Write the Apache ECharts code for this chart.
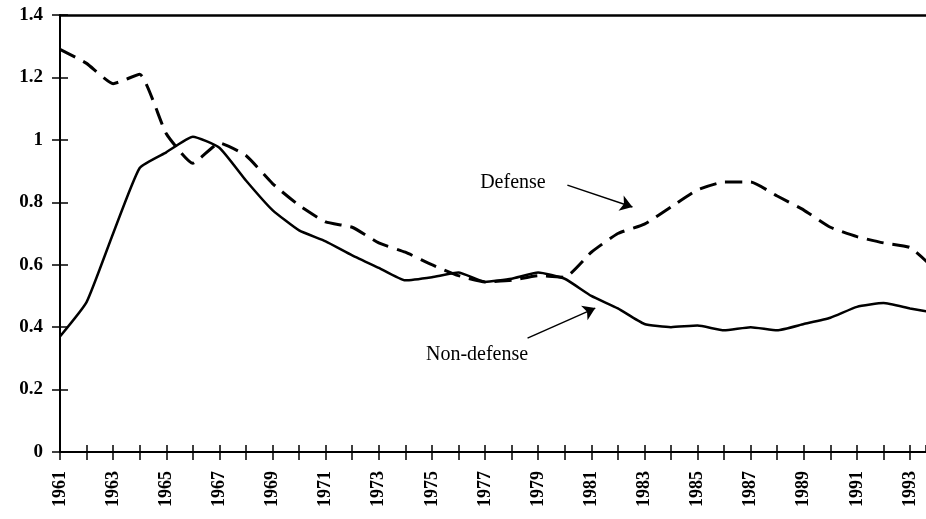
<!DOCTYPE html>
<html>
<head>
<meta charset="utf-8">
<script src="https://cdn.jsdelivr.net/npm/echarts@6/dist/echarts.min.js"></script>
<style>
  html, body { margin: 0; padding: 0; background: #fff; }
  #main { width: 926px; height: 519px; }
</style>
</head>
<body>
<div id="main"></div>
<script>
// years on the x axis
var years = [1961, 1962, 1963, 1964, 1965, 1966, 1967, 1968, 1969, 1970,
             1971, 1972, 1973, 1974, 1975, 1976, 1977, 1978, 1979, 1980,
             1981, 1982, 1983, 1984, 1985, 1986, 1987, 1988, 1989, 1990,
             1991, 1992, 1993, 1994];
// dashed line
var defense = [1.29, 1.245, 1.18, 1.21, 1.02, 0.925, 0.99, 0.95, 0.86, 0.79,
               0.737, 0.72, 0.67, 0.64, 0.60, 0.565, 0.545, 0.55, 0.565, 0.56,
               0.64, 0.70, 0.73, 0.785, 0.84, 0.865, 0.865, 0.82, 0.775, 0.72,
               0.69, 0.67, 0.655, 0.58];
// solid line
var nonDefense = [0.37, 0.48, 0.70, 0.91, 0.96, 1.01, 0.975, 0.87, 0.775, 0.71,
                  0.675, 0.63, 0.59, 0.55, 0.56, 0.575, 0.545, 0.555, 0.575, 0.555,
                  0.50, 0.46, 0.41, 0.40, 0.405, 0.39, 0.40, 0.39, 0.41, 0.43,
                  0.465, 0.477, 0.46, 0.445];
var yTicks = [0, 0.2, 0.4, 0.6, 0.8, 1, 1.2, 1.4];

var font = 'Liberation Serif';
var xMin = 1961, xMax = 1993.6;   // picture is cut off just before 1994
var pairs = function (vals) {
  return years.map(function (y, i) { return [y, vals[i]]; });
};

var chart = echarts.init(document.getElementById('main'));
chart.setOption({
  animation: false,
  backgroundColor: '#fff',
  grid: { left: 60, right: 0, top: 15, bottom: 67 },
  xAxis: [{
    type: 'value', min: xMin, max: xMax, interval: 1,
    splitLine: { show: false },
    axisLine: { lineStyle: { color: '#000', width: 2 } },
    axisTick: { length: 8, lineStyle: { color: '#000', width: 1.5 } },
    axisLabel: {
      rotate: 90, margin: 19, color: '#000', showMaxLabel: false,
      fontFamily: font, fontSize: 18, fontWeight: 'bold',
      formatter: function (v) { return (Number.isInteger(v) && v % 2 === 1) ? String(v) : ''; }
    }
  }, {
    type: 'value', min: xMin, max: xMax, interval: 1,
    position: 'bottom',
    splitLine: { show: false }, axisLine: { show: false }, axisLabel: { show: false },
    axisTick: { inside: true, length: 7, lineStyle: { color: '#000', width: 1.5 } }
  }, {
    type: 'value', min: xMin, max: xMax, interval: 1,
    position: 'top',
    splitLine: { show: false }, axisTick: { show: false }, axisLabel: { show: false },
    axisLine: { show: true, lineStyle: { color: '#000', width: 2.5 } }
  }],
  yAxis: [{
    type: 'value', min: yTicks[0], max: yTicks[yTicks.length - 1], interval: 0.2,
    splitLine: { show: false },
    axisLine: { show: true, lineStyle: { color: '#000', width: 2 } },
    axisTick: { show: true, length: 8, lineStyle: { color: '#000', width: 1.5 } },
    axisLabel: { margin: 17, color: '#000', fontFamily: font, fontSize: 19, fontWeight: 'bold' }
  }, {
    type: 'value', min: yTicks[0], max: yTicks[yTicks.length - 1], interval: 0.2,
    position: 'left',
    splitLine: { show: false }, axisLine: { show: false }, axisLabel: { show: false },
    axisTick: { show: true, inside: true, length: 8, lineStyle: { color: '#000', width: 1.5 } }
  }],
  series: [{
    name: 'Defense',
    type: 'line',
    data: pairs(defense),
    showSymbol: false,
    smooth: 0.15,
    lineStyle: { color: '#000', width: 3, type: [17, 9] },
    markLine: {
      silent: true, symbol: ['none', 'arrow'], symbolSize: 12,
      label: { show: false },
      lineStyle: { color: '#000', width: 1.5, type: 'solid' },
      data: [[{ coord: [1980.1, 0.855] }, { coord: [1982.55, 0.785] }]]
    },
    markPoint: {
      silent: true, symbol: 'circle', symbolSize: 0,
      label: { show: true, position: 'inside', color: '#000', fontFamily: font, fontSize: 20, formatter: 'Defense' },
      data: [{ coord: [1978.05, 0.862] }]
    }
  }, {
    name: 'Non-defense',
    type: 'line',
    data: pairs(nonDefense),
    showSymbol: false,
    smooth: 0.15,
    lineStyle: { color: '#000', width: 2.5 },
    markLine: {
      silent: true, symbol: ['none', 'arrow'], symbolSize: 12,
      label: { show: false },
      lineStyle: { color: '#000', width: 1.5, type: 'solid' },
      data: [[{ coord: [1978.6, 0.365] }, { coord: [1981.15, 0.461] }]]
    },
    markPoint: {
      silent: true, symbol: 'circle', symbolSize: 0,
      label: { show: true, position: 'inside', color: '#000', fontFamily: font, fontSize: 20, formatter: 'Non-defense' },
      data: [{ coord: [1976.7, 0.311] }]
    }
  }]
});
</script>
</body>
</html>
